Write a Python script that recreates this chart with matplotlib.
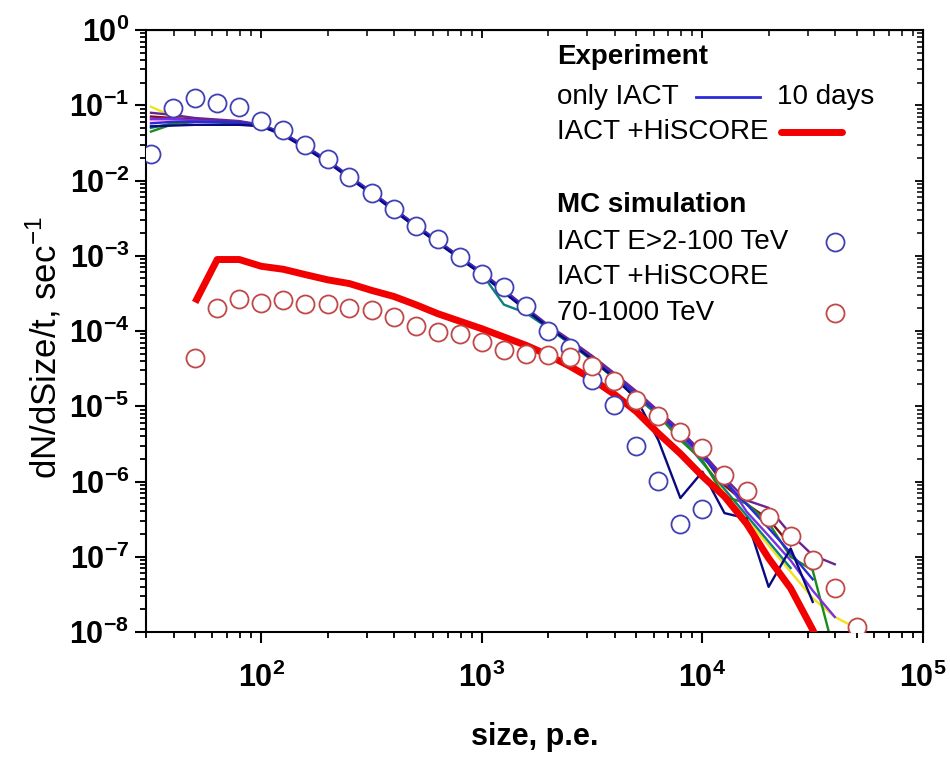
import numpy as np
import matplotlib
matplotlib.use("Agg")
import matplotlib.pyplot as plt
from matplotlib.ticker import LogLocator, FuncFormatter, NullFormatter

plt.rcParams["font.family"] = ["Liberation Sans", "DejaVu Sans"]
plt.rcParams["mathtext.fontset"] = "custom"
plt.rcParams["mathtext.rm"] = "Liberation Sans"
plt.rcParams["mathtext.bf"] = "Liberation Sans:bold"

# bin centres, size in p.e. (0.1 decade bins)
size_bins = [31.6, 39.8, 50.1, 63.1, 79.4, 100, 126, 158, 200, 251, 316, 398,
             501, 631, 794, 1000, 1259, 1585, 1995, 2512, 3162, 3981, 5012,
             6310, 7943, 10000, 12589, 15849, 19953, 25119, 31623, 39811, 50119]
nan = np.nan

# experiment, only IACT, 10 days (log10 of rate)
day_navy = [-1.28, -1.27, -1.26, -1.26, -1.26, -1.28, -1.40, -1.57, -1.76, -1.97, -2.18, -2.40,
            -2.62, -2.83, -3.04, -3.25, -3.49, -3.72, -3.95, -4.15, -4.38, -4.62, -4.90,
            -5.45, -6.22, -5.87, -6.42, -6.49, -7.40, -6.89, -7.60, nan, nan]
day_blue = [-1.24, -1.22, -1.22, -1.22, -1.23, -1.27, -1.38, -1.55, -1.74, -1.95, -2.16, -2.38,
            -2.60, -2.81, -3.02, -3.23, -3.47, -3.71, -3.94, -4.16, -4.37, -4.60, -4.84,
            -5.10, -5.36, -5.66, -6.00, -6.30, -6.62, -6.95, -7.30, nan, nan]
day_purple = [-1.10, -1.13, -1.17, -1.19, -1.21, -1.26, -1.37, -1.54, -1.73, -1.94, -2.15, -2.37,
              -2.59, -2.80, -3.01, -3.22, -3.45, -3.69, -3.92, -4.12, -4.33, -4.56, -4.80,
              -5.06, -5.32, -5.62, -5.95, -6.25, -6.35, -6.70, -6.98, -7.10, nan]
day_violet = [-1.18, -1.18, -1.20, -1.21, -1.22, -1.26, -1.38, -1.55, -1.74, -1.95, -2.16, -2.38,
              -2.60, -2.81, -3.02, -3.23, -3.46, -3.70, -3.93, -4.14, -4.36, -4.58, -4.83,
              -5.10, -5.38, -5.68, -5.95, -6.40, -6.72, -7.05, -7.45, -7.80, nan]
day_green = [-1.35, -1.25, -1.22, -1.22, -1.23, -1.27, -1.38, -1.55, -1.74, -1.95, -2.16, -2.38,
             -2.60, -2.81, -3.03, -3.24, -3.48, -3.72, -3.95, -4.16, -4.38, -4.62, -4.86,
             -5.12, -5.45, -5.72, -6.20, -6.29, -6.55, -7.00, -7.18, -8.30, nan]
day_teal = [-1.30, -1.24, -1.22, -1.23, -1.24, -1.28, -1.39, -1.56, -1.75, -1.96, -2.17, -2.39,
            -2.61, -2.82, -3.03, -3.24, -3.65, -3.76, -3.96, -4.17, -4.39, -4.63, -4.88,
            -5.12, -5.40, -5.75, -6.10, -6.45, -6.80, -7.15, nan, nan, nan]
day_yellow = [-1.02, -1.15, -1.19, -1.21, -1.22, -1.27, -1.38, -1.55, -1.74, -1.95, -2.16, -2.38,
              -2.60, -2.81, -3.02, -3.23, -3.47, -3.71, -3.94, -4.16, -4.38, -4.62, -4.85,
              -5.12, -5.40, -5.72, -6.15, -6.50, -6.85, -7.20, -7.55, -7.80, -7.95]
day_brown = [-1.15, -1.17, -1.19, -1.21, -1.23, -1.27, -1.38, -1.55, -1.74, -1.95, -2.16, -2.38,
             -2.60, -2.81, -3.02, -3.23, -3.47, -3.71, -3.94, -4.15, -4.36, -4.60, -4.84,
             -5.10, -5.35, -5.65, -6.05, -6.30, -6.50, -6.85, nan, nan, nan]
day_pink = [-1.20, -1.20, -1.21, -1.22, -1.23, -1.27, -1.38, -1.55, -1.74, -1.95, -2.16, -2.38,
            -2.60, -2.81, -3.02, -3.23, -3.47, -3.71, -3.94, -4.16, -4.38, -4.61, -4.85,
            -5.11, -5.38, -5.70, nan, nan, nan, nan, nan, nan, nan]

# experiment, IACT + HiSCORE (bins 2..31)
hiscore_exp = [-3.62, -3.05, -3.05, -3.14, -3.18, -3.25, -3.32, -3.37, -3.46, -3.54, -3.65,
               -3.77, -3.87, -3.97, -4.08, -4.19, -4.32, -4.47, -4.64, -4.84, -5.07, -5.36,
               -5.63, -5.93, -6.20, -6.56, -7.02, -7.42, -7.97, -8.60]

# MC: IACT, E>2-100 TeV (bins 0..25)
mc_iact = [-1.65, -1.04, -0.91, -0.97, -1.02, -1.21, -1.33, -1.53, -1.72, -1.96, -2.16, -2.38,
           -2.60, -2.78, -3.02, -3.24, -3.42, -3.67, -4.00, -4.23, -4.65, -4.99, -5.53,
           -5.99, -6.56, -6.36]
# MC: IACT + HiSCORE, 70-1000 TeV (bins 2..32)
mc_hiscore = [-4.36, -3.69, -3.58, -3.63, -3.59, -3.64, -3.64, -3.70, -3.72, -3.82, -3.93,
              -4.01, -4.04, -4.15, -4.25, -4.31, -4.32, -4.35, -4.46, -4.67, -4.92, -5.13,
              -5.34, -5.56, -5.91, -6.12, -6.47, -6.73, -7.04, -7.42, -7.93]

days = [(day_pink, "#f08cf0"), (day_yellow, "#f2e21c"), (day_brown, "#7a1010"),
        (day_teal, "#0a8080"), (day_green, "#1b8a1b"), (day_violet, "#7b30e0"),
        (day_purple, "#6a2590"), (day_blue, "#2a2ad8"), (day_navy, "#0a0a80")]

x = np.array(size_bins)

fig = plt.figure(figsize=(9.5, 7.6), dpi=100)
ax = fig.add_axes([146 / 950, 128 / 760, 777 / 950, 602 / 760])

for vals, col in days:
    ax.plot(x, 10 ** np.array(vals), color=col, lw=1.7, zorder=2)

ax.plot(x[2:2 + len(hiscore_exp)], 10 ** np.array(hiscore_exp), color="#f20000", lw=5,
        zorder=3, solid_joinstyle="round", solid_capstyle="butt")

ax.plot(x[:len(mc_iact)], 10 ** np.array(mc_iact), ls="none", marker="o", ms=13,
        mfc="white", mec="#4040b4", mew=1.3, zorder=4)
ax.plot(x[2:2 + len(mc_hiscore)], 10 ** np.array(mc_hiscore), ls="none", marker="o", ms=13,
        mfc="white", mec="#c04848", mew=1.3, zorder=5)

ax.set_xscale("log")
ax.set_yscale("log")
ax.set_xlim(30, 1e5)
ax.set_ylim(1e-8, 1)

fmt = FuncFormatter(lambda v, p: r"$\mathbf{10^{%d}}$" % round(np.log10(v)))
ax.xaxis.set_major_locator(LogLocator(base=10, numticks=20))
ax.yaxis.set_major_locator(LogLocator(base=10, numticks=20))
ax.xaxis.set_minor_locator(LogLocator(base=10, subs=np.arange(2, 10), numticks=20))
ax.yaxis.set_minor_locator(LogLocator(base=10, subs=np.arange(2, 10), numticks=20))
ax.xaxis.set_major_formatter(fmt)
ax.yaxis.set_major_formatter(fmt)
ax.xaxis.set_minor_formatter(NullFormatter())
ax.yaxis.set_minor_formatter(NullFormatter())
ax.tick_params(which="major", direction="out", length=8, width=1.5, labelsize=22)
ax.tick_params(axis="y", which="major", pad=4)
ax.tick_params(axis="x", which="major", pad=14)
ax.tick_params(which="minor", direction="out", length=4.5, width=1.3)
for s in ax.spines.values():
    s.set_linewidth(1.5)

# mirrored axes with inward ticks
top = ax.secondary_xaxis("top")
right = ax.secondary_yaxis("right")
for sec in (top, right):
    sec.tick_params(which="major", direction="in", length=6, width=1.3)
    sec.tick_params(which="minor", direction="in", length=4, width=1.1)
top.xaxis.set_major_formatter(NullFormatter())
top.xaxis.set_minor_formatter(NullFormatter())
right.yaxis.set_major_formatter(NullFormatter())
right.yaxis.set_minor_formatter(NullFormatter())

ax.set_xlabel("size, p.e.", fontsize=22, fontweight="bold", labelpad=20)
ax.set_ylabel(r"dN/dSize/t, sec$^{-1}$", fontsize=25)
ax.yaxis.set_label_coords(-0.106, 0.473)

# hand-made legend
tx = 0.529
fs = 20
ax.text(tx, 0.955, "Experiment", transform=ax.transAxes, fontsize=fs, fontweight="bold", va="center")
ax.text(tx, 0.889, "only IACT", transform=ax.transAxes, fontsize=fs, va="center")
ax.plot([0.708, 0.790], [0.889, 0.889], transform=ax.transAxes, color="#2a2ad8", lw=2)
ax.text(0.812, 0.889, "10 days", transform=ax.transAxes, fontsize=fs, va="center")
ax.text(tx, 0.831, "IACT +HiSCORE", transform=ax.transAxes, fontsize=fs, va="center")
ax.plot([0.817, 0.896], [0.831, 0.831], transform=ax.transAxes, color="#f20000", lw=5,
        solid_capstyle="round")
ax.text(tx, 0.709, "MC simulation", transform=ax.transAxes, fontsize=fs, fontweight="bold", va="center")
ax.text(tx, 0.648, "IACT E>2-100 TeV", transform=ax.transAxes, fontsize=fs, va="center")
ax.plot([0.887], [0.648], transform=ax.transAxes, marker="o", ms=13, mfc="white",
        mec="#4040b4", mew=1.3)
ax.text(tx, 0.590, "IACT +HiSCORE", transform=ax.transAxes, fontsize=fs, va="center")
ax.text(tx, 0.530, "70-1000 TeV", transform=ax.transAxes, fontsize=fs, va="center")
ax.plot([0.887], [0.530], transform=ax.transAxes, marker="o", ms=13, mfc="white",
        mec="#c04848", mew=1.3)

fig.savefig("out.png", dpi=100)
